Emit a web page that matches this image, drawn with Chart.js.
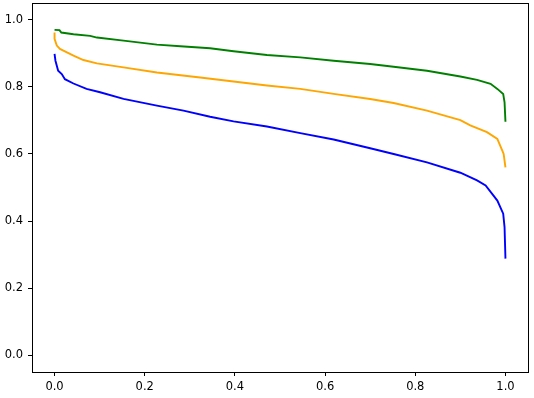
<!DOCTYPE html>
<html>
<head>
<meta charset="utf-8">
<script src="https://cdn.jsdelivr.net/npm/chart.js@4"></script>
<style>
  body { margin: 0; background: #fff; }
  canvas { display: block; }
</style>
</head>
<body>
<canvas id="curveChart" width="534" height="398"></canvas>
<script>
// values
const greenX = [0, 0.011, 0.015, 0.042, 0.079, 0.094, 0.153, 0.190, 0.227, 0.279, 0.345, 0.397, 0.471, 0.545, 0.619, 0.700, 0.752, 0.826, 0.900, 0.937, 0.967, 0.982, 0.995, 0.998, 1.0];
const greenY = [0.970, 0.969, 0.962, 0.957, 0.952, 0.947, 0.938, 0.932, 0.926, 0.921, 0.915, 0.906, 0.895, 0.888, 0.878, 0.868, 0.860, 0.848, 0.831, 0.821, 0.809, 0.794, 0.779, 0.754, 0.696];

const orangeX = [0, 0, 0.005, 0.012, 0.023, 0.042, 0.064, 0.094, 0.153, 0.227, 0.323, 0.397, 0.471, 0.545, 0.619, 0.700, 0.752, 0.826, 0.900, 0.922, 0.959, 0.982, 0.993, 0.996, 1.0];
const orangeY = [0.962, 0.943, 0.923, 0.913, 0.906, 0.893, 0.880, 0.870, 0.858, 0.843, 0.828, 0.816, 0.804, 0.794, 0.779, 0.764, 0.752, 0.729, 0.701, 0.685, 0.665, 0.645, 0.610, 0.600, 0.560];

const blueX = [0, 0.002, 0.008, 0.016, 0.023, 0.042, 0.071, 0.101, 0.153, 0.227, 0.286, 0.345, 0.397, 0.471, 0.545, 0.619, 0.700, 0.752, 0.826, 0.900, 0.937, 0.956, 0.982, 0.995, 0.998, 1.0];
const blueY = [0.898, 0.878, 0.848, 0.838, 0.823, 0.810, 0.794, 0.784, 0.764, 0.744, 0.729, 0.711, 0.697, 0.682, 0.662, 0.643, 0.617, 0.600, 0.575, 0.544, 0.521, 0.506, 0.461, 0.422, 0.382, 0.288];

const xTicks = [0, 0.2, 0.4, 0.6, 0.8, 1.0];
const yTicks = [0, 0.2, 0.4, 0.6, 0.8, 1.0];

function toPoints(xs, ys) {
  return xs.map((x, i) => ({ x: x, y: ys[i] }));
}

// top and right spines, like matplotlib's box
const frameBox = {
  id: 'frameBox',
  afterDraw(chart) {
    const a = chart.chartArea;
    const c = chart.ctx;
    c.save();
    c.strokeStyle = '#000';
    c.lineWidth = 1;
    c.strokeRect(Math.round(a.left) + 0.5, Math.round(a.top) + 0.5,
      Math.round(a.right - a.left), Math.round(a.bottom - a.top));
    c.restore();
  }
};

function noPad(s) {
  s.paddingTop = 0;
  s.paddingBottom = 0;
  s.paddingLeft = 0;
  s.paddingRight = 0;
}

const tickFont = { family: 'DejaVu Sans', size: 11.5 };

const ctx = document.getElementById('curveChart').getContext('2d');
new Chart(ctx, {
  type: 'line',
  data: {
    datasets: [
      { label: 'blue', data: toPoints(blueX, blueY), borderColor: '#0000ff' },
      { label: 'orange', data: toPoints(orangeX, orangeY), borderColor: '#ffa500' },
      { label: 'green', data: toPoints(greenX, greenY), borderColor: '#008000' }
    ]
  },
  options: {
    responsive: false,
    animation: false,
    layout: { padding: { top: 3, right: 6, left: 0, bottom: 0 } },
    elements: {
      point: { radius: 0 },
      line: { borderWidth: 1.9, tension: 0, fill: false }
    },
    plugins: {
      legend: { display: false },
      tooltip: { enabled: false }
    },
    scales: {
      x: {
        type: 'linear',
        min: -0.05,
        max: 1.05,
        afterBuildTicks: s => { s.ticks = xTicks.map(v => ({ value: v })); },
        afterFit: s => { s.height = 26; noPad(s); },
        grid: { drawOnChartArea: false, drawTicks: true, tickLength: 4, color: '#000' },
        border: { display: true, color: '#000', width: 1 },
        ticks: {
          color: '#000',
          font: tickFont,
          padding: 4,
          maxRotation: 0,
          callback: v => v.toFixed(1)
        }
      },
      y: {
        type: 'linear',
        min: -0.05,
        max: 1.05,
        afterBuildTicks: s => { s.ticks = yTicks.map(v => ({ value: v })); },
        afterFit: s => { s.width = 32; noPad(s); },
        grid: { drawOnChartArea: false, drawTicks: true, tickLength: 4, color: '#000' },
        border: { display: true, color: '#000', width: 1 },
        ticks: {
          color: '#000',
          font: tickFont,
          padding: 5,
          callback: v => v.toFixed(1)
        }
      }
    }
  },
  plugins: [frameBox]
});
</script>
</body>
</html>
